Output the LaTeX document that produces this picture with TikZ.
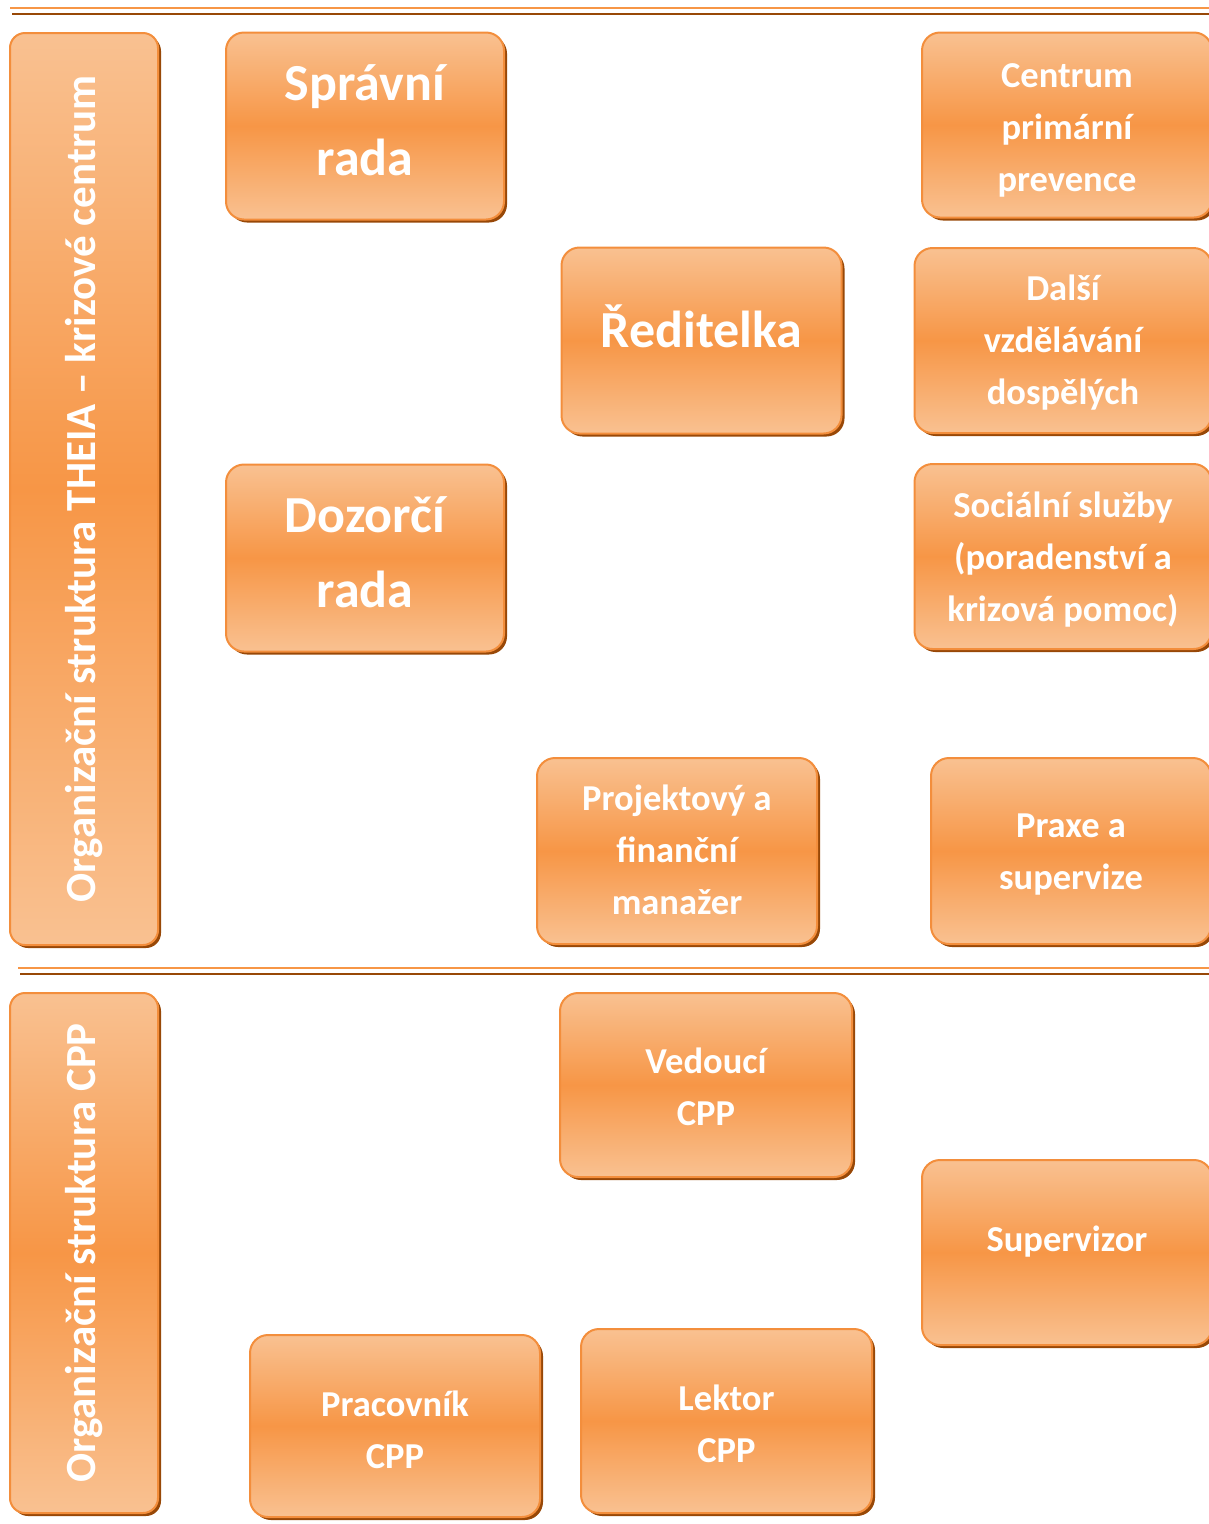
\documentclass[tikz,border=0pt]{standalone}
\usepackage{fontspec}
\setmainfont{Carlito}
\usepackage{graphicx}
\usetikzlibrary{shadows}
\definecolor{lightor}{RGB}{249,193,145}
\definecolor{midor}{RGB}{247,150,70}
\definecolor{edgeor}{RGB}{243,142,60}
\definecolor{shadowbr}{RGB}{152,72,7}
\definecolor{lineor}{RGB}{247,150,70}
\definecolor{linebr}{RGB}{152,72,7}
\begin{document}
\begin{tikzpicture}[x=1pt,y=-1pt,
  orgbox/.style={rounded corners=18pt, draw=edgeor, line width=2pt,
    top color=lightor, bottom color=lightor, middle color=midor,
    drop shadow={shadow xshift=3pt, shadow yshift=-3pt, fill=shadowbr, opacity=1},
    text=white, align=center, inner sep=0pt},
  sidebox/.style={orgbox, rounded corners=15pt, minimum width=148pt,
    font=\fontsize{43pt}{50pt}\selectfont\bfseries},
  smalltxt/.style={font=\fontsize{36.5pt}{52pt}\selectfont\bfseries, text height=17pt, text depth=0pt},
  bigtxt/.style={font=\fontsize{52pt}{75pt}\selectfont\bfseries, text height=24.2pt, text depth=0pt},
  orangeline/.style={draw=lineor, line width=2.5pt},
  brownline/.style={draw=linebr, line width=2.5pt}]
\useasboundingbox (0,0) rectangle (1209,1524);

% separator lines
\draw[orangeline] (10,8) -- (1209,8);
\draw[brownline] (12,14) -- (1209,14);
\draw[orangeline] (18,968) -- (1209,968);
\draw[brownline] (20,974) -- (1209,974);

% side boxes
\node[sidebox, minimum height=912pt] (side1) at (84,489)
  {\rotatebox{90}{Organizační struktura THEIA – krizové centrum}};
\node[sidebox, minimum height=520pt] (side2) at (84,1253)
  {\rotatebox{90}{Organizační struktura CPP}};

% upper part
\node[orgbox, bigtxt, text height=99.2pt, minimum width=278pt, minimum height=187pt] (spravni) at (365,126)
  {Správní\\rada};
\node[orgbox, smalltxt, text height=132pt, minimum width=290pt, minimum height=185pt] (centrum) at (1067,125)
  {Centrum\\primární\\prevence};
\node[orgbox, bigtxt, text depth=10pt, minimum width=280pt, minimum height=186pt] (reditelka) at (701.5,340.5)
  {Ředitelka};
\node[orgbox, smalltxt, text height=127pt, minimum width=297pt, minimum height=185pt] (dalsi) at (1063,340.5)
  {Další\\vzdělávání\\dospělých};
\node[orgbox, bigtxt, text height=99.2pt, minimum width=278pt, minimum height=187pt] (dozorci) at (365,558)
  {Dozorčí\\rada};
\node[orgbox, smalltxt, text height=129pt, minimum width=297pt, minimum height=185pt] (socialni) at (1063,556.5)
  {Sociální služby\\(poradenství a\\krizová pomoc)};
\node[orgbox, smalltxt, text height=127pt, minimum width=280pt, minimum height=186pt] (projekt) at (677,851)
  {Projektový a\\finanční\\manažer};
\node[orgbox, smalltxt, text height=76pt, minimum width=280pt, minimum height=186pt] (praxe) at (1071,851)
  {Praxe a\\supervize};

% lower part
\node[orgbox, smalltxt, text height=81pt, minimum width=292pt, minimum height=184pt] (vedouci) at (706,1085)
  {Vedoucí\\CPP};
\node[orgbox, smalltxt, text depth=19pt, minimum width=290pt, minimum height=185pt] (supervizor) at (1067,1252.5)
  {Supervizor};
\node[orgbox, smalltxt, text height=85pt, minimum width=290pt, minimum height=182pt] (pracovnik) at (395,1426)
  {Pracovník\\CPP};
\node[orgbox, smalltxt, text height=82pt, minimum width=291pt, minimum height=184pt] (lektor) at (726.5,1421)
  {Lektor\\CPP};
\end{tikzpicture}
\end{document}
